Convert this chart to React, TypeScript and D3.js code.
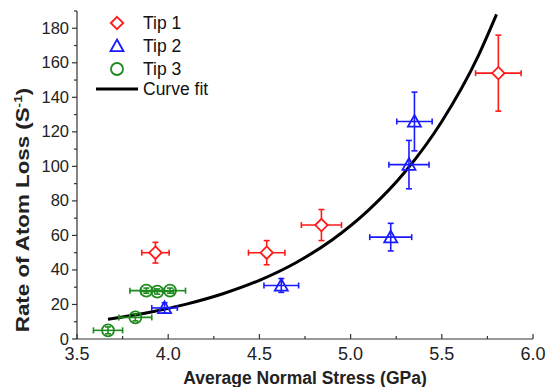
import React from "react";
import * as d3 from "d3";

const W = 546;
const H = 387;

// Tip 1: [stress, rate, xErr, yErr]
const tip1X = [3.93, 4.54, 4.84, 5.81];
const tip1Y = [50, 50, 66, 154];
const tip1XErr = [0.075, 0.1, 0.11, 0.125];
const tip1YErr = [6, 7, 9, 22];

const tip2X = [3.98, 4.62, 5.22, 5.32, 5.35];
const tip2Y = [18, 31, 59, 101, 126];
const tip2XErr = [0.07, 0.095, 0.115, 0.11, 0.097];
const tip2YErr = [3, 4, 8, 14, 17];

const tip3X = [3.67, 3.82, 3.88, 3.94, 4.01];
const tip3Y = [5, 12.5, 28, 27.5, 28];
const tip3XErr = [0.08, 0.09, 0.09, 0.09, 0.085];
const tip3YErr = [2, 2, 1.5, 1.5, 1.5];

// Curve fit
const curveX = [3.67, 3.9, 4.1, 4.3, 4.5, 4.7, 4.9, 5.1, 5.3, 5.5, 5.7, 5.8];
const curveY = [11.5, 15.5, 20.2, 26.2, 34, 44.2, 57.5, 74.8, 97, 126, 164, 188];

const xTicks = [3.5, 4.0, 4.5, 5.0, 5.5, 6.0];
const yTicks = [0, 20, 40, 60, 80, 100, 120, 140, 160, 180];

const legendLabels = ["Tip 1", "Tip 2", "Tip 3", "Curve fit"];

const RED = "#ff1a1a";
const BLUE = "#1a1aff";
const GREEN = "#1e8a1e";
const FONT = "'Liberation Sans', Arial, sans-serif";

const x = d3.scaleLinear().domain([3.5, 6.0]).range([77, 533]);
const y = d3.scaleLinear().domain([0, 190]).range([339, 11]);

type Shape = "diamond" | "triangle" | "circle";

function Marker({ cx, cy, shape, color }: { cx: number; cy: number; shape: Shape; color: string }) {
  if (shape === "diamond") {
    const s = 6.2;
    return (
      <path
        d={`M${cx},${cy - s}L${cx + s},${cy}L${cx},${cy + s}L${cx - s},${cy}Z`}
        fill="white"
        stroke={color}
        strokeWidth={1.8}
      />
    );
  }
  if (shape === "triangle") {
    const s = 6.5;
    return (
      <path
        d={`M${cx},${cy - s}L${cx + s},${cy + s * 0.8}L${cx - s},${cy + s * 0.8}Z`}
        fill="none"
        stroke={color}
        strokeWidth={1.8}
      />
    );
  }
  return <circle cx={cx} cy={cy} r={6} fill="none" stroke={color} strokeWidth={1.8} />;
}

function Series({
  xs, ys, xe, ye, shape, color,
}: { xs: number[]; ys: number[]; xe: number[]; ye: number[]; shape: Shape; color: string }) {
  const cap = 3;
  return (
    <g>
      {xs.map((xv, i) => {
        const cx = x(xv);
        const cy = y(ys[i]);
        const x0 = x(xv - xe[i]);
        const x1 = x(xv + xe[i]);
        const y0 = y(ys[i] + ye[i]);
        const y1 = y(ys[i] - ye[i]);
        return (
          <g key={i} stroke={color} strokeWidth={1.6} fill="none">
            <line x1={x0} x2={x1} y1={cy} y2={cy} />
            <line x1={x0} x2={x0} y1={cy - cap} y2={cy + cap} />
            <line x1={x1} x2={x1} y1={cy - cap} y2={cy + cap} />
            <line x1={cx} x2={cx} y1={y0} y2={y1} />
            <line x1={cx - cap} x2={cx + cap} y1={y0} y2={y0} />
            <line x1={cx - cap} x2={cx + cap} y1={y1} y2={y1} />
          </g>
        );
      })}
      {xs.map((xv, i) => (
        <Marker key={"m" + i} cx={x(xv)} cy={y(ys[i])} shape={shape} color={color} />
      ))}
    </g>
  );
}

export default function App() {
  const curvePts = curveX.map((v, i) => [v, curveY[i]] as [number, number]);
  const line = d3
    .line<[number, number]>()
    .x((d) => x(d[0]))
    .y((d) => y(d[1]))
    .curve(d3.curveMonotoneX);

  const xMinor = d3.range(3.5, 6.0001, 0.25);
  const yMinor = d3.range(0, 190.001, 10);

  const legendY = [23, 46, 69];
  const legendShapes: Shape[] = ["diamond", "triangle", "circle"];
  const legendColors = [RED, BLUE, GREEN];

  return (
    <svg
      width={W}
      height={H}
      style={{ position: "absolute", left: 0, top: 0, background: "white" }}
      fontFamily={FONT}
    >
      <rect width={W} height={H} fill="white" />
      {/* axes */}
      <g stroke="#333" strokeWidth={1.2}>
        <line x1={x(3.5)} x2={x(6.0)} y1={y(0)} y2={y(0)} />
        <line x1={x(3.5)} x2={x(3.5)} y1={y(0)} y2={y(190)} />
        {xMinor.map((v, i) => (
          <line key={"xm" + i} x1={x(v)} x2={x(v)} y1={y(0)} y2={y(0) - (i % 2 === 0 ? 5 : 3)} />
        ))}
        {yMinor.map((v, i) => (
          <line key={"ym" + i} x1={x(3.5)} x2={x(3.5) - (i % 2 === 0 ? 5 : 3)} y1={y(v)} y2={y(v)} />
        ))}
      </g>
      <g fontSize={18} fill="#222">
        {xTicks.map((v) => (
          <text key={v} x={x(v)} y={y(0) + 21} textAnchor="middle">
            {v.toFixed(1)}
          </text>
        ))}
      </g>
      <g fontSize={16.5} fill="#222">
        {yTicks.map((v) => (
          <text key={v} x={x(3.5) - 8} y={y(v) + 5.5} textAnchor="end">
            {v}
          </text>
        ))}
      </g>
      <text x={305} y={384} textAnchor="middle" fontSize={17.5} fontWeight="bold" fill="#222">
        Average Normal Stress (GPa)
      </text>
      <g transform={`translate(29,210) rotate(-90) scale(1.24,1)`}>
        <text textAnchor="middle" fontSize={18} fontWeight="bold" fill="#222">
          Rate of Atom Loss (S
          <tspan dy={-7} fontSize={11}>-1</tspan>
          <tspan dy={7}>)</tspan>
        </text>
      </g>

      {/* curve */}
      <path d={line(curvePts) || ""} fill="none" stroke="black" strokeWidth={3} />

      <Series xs={tip3X} ys={tip3Y} xe={tip3XErr} ye={tip3YErr} shape="circle" color={GREEN} />
      <Series xs={tip2X} ys={tip2Y} xe={tip2XErr} ye={tip2YErr} shape="triangle" color={BLUE} />
      <Series xs={tip1X} ys={tip1Y} xe={tip1XErr} ye={tip1YErr} shape="diamond" color={RED} />

      {/* legend */}
      {legendY.map((ly, i) => (
        <g key={"lg" + i}>
          <Marker cx={117} cy={ly} shape={legendShapes[i]} color={legendColors[i]} />
          <text x={143} y={ly + 6} fontSize={17.5} fill="#111">
            {legendLabels[i]}
          </text>
        </g>
      ))}
      <line x1={96} x2={138} y1={89} y2={89} stroke="black" strokeWidth={3} />
      <text x={143} y={95} fontSize={17.5} fill="#111">
        {legendLabels[3]}
      </text>
    </svg>
  );
}
